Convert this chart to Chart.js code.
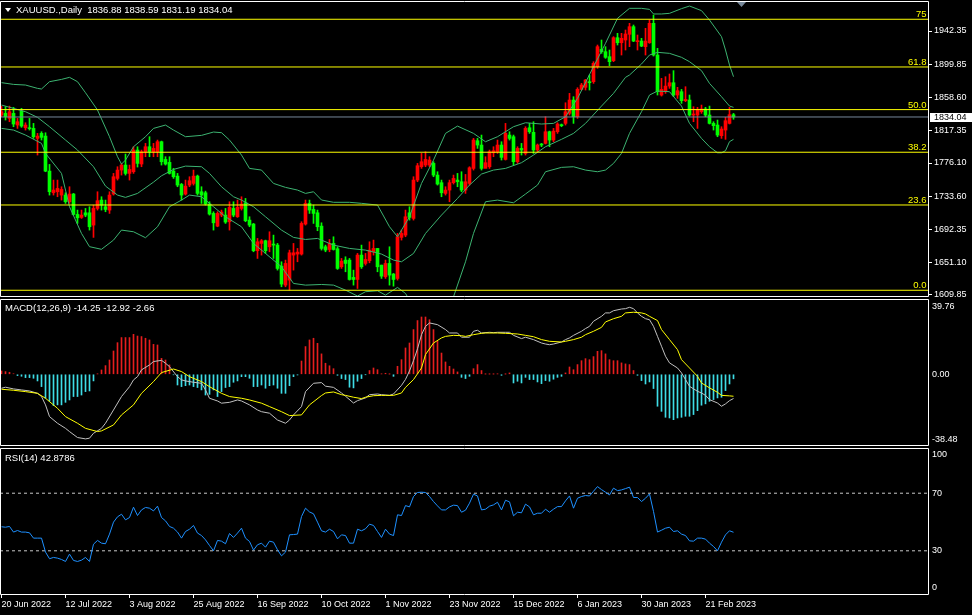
<!DOCTYPE html>
<html><head><meta charset="utf-8">
<script src="https://cdn.jsdelivr.net/npm/chart.js@4.4.1/dist/chart.umd.min.js"></script>
<style>
html,body{margin:0;padding:0;background:#000;}
#root{position:relative;width:972px;height:615px;overflow:hidden;background:#000;font-family:"Liberation Sans",Arial,sans-serif;}
canvas{position:absolute;left:0;}
.ttl{position:absolute;color:#fff;font-size:9.5px;line-height:12px;white-space:pre;}
.tri{position:absolute;width:0;height:0;border-left:3px solid transparent;border-right:3px solid transparent;border-top:4px solid #fff;}
</style></head><body>
<div id="root">
<canvas id="cP" width="972" height="298" style="top:0px"></canvas>
<canvas id="cM" width="972" height="149" style="top:298px"></canvas>
<canvas id="cR" width="972" height="168" style="top:447px"></canvas>
<div class="tri" style="left:5px;top:8px"></div>
<div class="ttl" style="left:16px;top:4px">XAUUSD.,Daily  1836.88 1838.59 1831.19 1834.04</div>
<div class="ttl" style="left:5px;top:302px">MACD(12,26,9) -14.25 -12.92 -2.66</div>
<div class="ttl" style="left:5px;top:452px">RSI(14) 42.8786</div>
</div>
<script>
// ---------- DATA ----------
const xTickIdx = [0,16,32,48,64,80,96,112,128,144,160,176];
const xTickLabels = ['20 Jun 2022','12 Jul 2022','3 Aug 2022','25 Aug 2022','16 Sep 2022','10 Oct 2022','1 Nov 2022','23 Nov 2022','15 Dec 2022','6 Jan 2023','30 Jan 2023','21 Feb 2023'];
const priceTicks = [1942.35,1899.85,1858.60,1817.35,1776.10,1733.60,1692.35,1651.10,1609.85];
const macdTicks = [39.76,0,-38.48];
const rsiTicks = [100,70,30,0];
const rsiLevels = [70,30];
const fibLevels = [75,61.8,50,38.2,23.6,0];
const fibLabels = ['75','61.8','50.0','38.2','23.6','0.0'];
const fibLow = 1615.8, fibHigh = 2070.9;
const lastPrice = 1834.04;

const opens = [
1836.5,1838.6,1832.3,1838.6,1823.9,1841.5,1820.5,1820.5,1819.7,1807.1,
1813.4,1810.0,1765.9,1738.6,1739.9,1735.7,1735.7,1727.3,1737.0,1711.3,
1707.6,1713.4,1713.4,1697.9,1718.9,1729.4,1721.0,1716.8,1737.0,1756.7,
1767.2,1773.5,1763.0,1765.1,1792.4,1774.8,1790.3,1796.6,1790.3,1790.3,
1802.9,1780.6,1776.9,1765.9,1759.6,1749.1,1737.0,1748.3,1750.4,1759.6,
1739.9,1738.6,1724.4,1712.6,1696.6,1710.5,1710.5,1702.1,1718.9,1708.4,
1718.9,1726.0,1704.2,1699.2,1665.6,1674.8,1678.2,1670.6,1674.0,1672.7,
1646.2,1622.3,1628.6,1660.1,1661.4,1661.4,1699.2,1725.2,1717.6,1713.4,
1696.6,1670.6,1667.2,1674.8,1668.1,1645.4,1653.8,1653.8,1632.0,1629.4,
1660.1,1649.6,1653.0,1664.3,1668.5,1647.5,1632.8,1649.6,1636.2,1630.7,
1682.4,1685.3,1713.4,1706.3,1754.6,1771.4,1773.5,1773.5,1775.6,1760.9,
1751.3,1737.8,1742.0,1751.3,1754.6,1752.5,1742.0,1750.4,1769.3,1804.2,
1798.7,1769.3,1771.4,1789.0,1790.3,1798.7,1780.6,1811.3,1809.2,1777.7,
1794.5,1788.2,1820.5,1814.7,1792.4,1799.5,1800.8,1815.5,1805.0,1815.5,
1823.9,1826.0,1838.6,1855.4,1834.4,1868.8,1871.4,1878.5,1878.5,1897.4,
1919.2,1916.3,1910.0,1905.0,1933.9,1927.6,1931.0,1938.2,1947.8,1928.9,
1929.7,1922.6,1927.6,1952.0,1912.1,1861.7,1865.9,1873.0,1877.2,1861.7,
1865.9,1854.6,1855.4,1836.5,1836.5,1840.7,1844.1,1836.5,1826.0,1823.9,
1810.5,1817.6,1826.0,1836.88];
const highs = [
1847.8,1847.0,1847.8,1846.2,1832.3,1844.9,1826.8,1832.3,1826.0,1813.4,
1815.5,1814.2,1774.3,1754.6,1754.6,1746.2,1738.6,1746.2,1737.8,1716.8,
1716.8,1718.9,1721.0,1723.0,1739.9,1733.6,1729.4,1739.9,1763.0,1771.4,
1775.6,1787.4,1773.5,1796.6,1796.6,1792.4,1800.8,1809.2,1800.8,1805.0,
1803.7,1784.0,1784.0,1769.3,1763.0,1750.4,1754.6,1758.8,1767.2,1760.9,
1746.2,1740.7,1727.3,1714.7,1714.7,1716.8,1718.9,1727.3,1727.3,1729.4,
1733.6,1731.5,1708.4,1700.0,1681.1,1679.8,1679.0,1689.5,1685.3,1674.8,
1651.7,1653.8,1666.4,1674.8,1668.5,1702.1,1729.4,1729.4,1723.1,1716.8,
1700.8,1672.7,1679.8,1683.2,1670.6,1655.9,1658.0,1655.9,1641.2,1662.2,
1672.7,1662.2,1676.9,1679.0,1668.5,1647.5,1653.8,1670.6,1637.0,1687.4,
1691.6,1716.8,1721.0,1758.8,1775.6,1788.2,1790.3,1784.0,1777.7,1765.1,
1754.6,1746.2,1754.6,1760.9,1763.0,1765.1,1761.7,1771.4,1807.1,1807.1,
1811.3,1784.0,1792.4,1796.6,1805.0,1802.9,1826.0,1815.5,1811.3,1796.6,
1800.8,1821.8,1826.0,1828.1,1800.0,1800.8,1834.4,1816.3,1819.7,1826.8,
1825.2,1852.0,1863.8,1859.6,1870.9,1876.4,1881.4,1886.9,1903.7,1924.7,
1931.0,1922.6,1918.4,1935.2,1939.4,1939.4,1943.6,1952.0,1949.9,1937.3,
1933.1,1945.7,1956.2,1962.5,1920.5,1882.7,1884.8,1888.2,1892.4,1871.4,
1868.8,1872.2,1861.7,1847.0,1846.2,1849.1,1846.2,1847.8,1828.1,1830.2,
1821.8,1833.6,1846.2,1838.59];
const lows = [
1834.4,1830.2,1828.1,1821.8,1819.7,1821.0,1817.6,1817.6,1807.1,1786.1,
1805.0,1765.1,1735.7,1735.7,1733.6,1729.4,1725.2,1725.2,1710.5,1700.0,
1706.3,1708.4,1691.6,1682.4,1716.8,1716.8,1714.7,1712.6,1735.7,1754.6,
1760.9,1760.9,1754.6,1763.0,1771.0,1771.4,1784.0,1784.0,1784.0,1784.0,
1773.5,1773.5,1762.2,1756.7,1746.2,1729.4,1735.7,1746.2,1748.3,1735.7,
1725.2,1723.1,1710.5,1691.6,1695.8,1708.4,1700.0,1691.6,1708.4,1707.6,
1716.8,1702.1,1695.8,1664.3,1655.9,1660.1,1662.2,1664.3,1655.9,1641.2,
1620.2,1620.2,1616.0,1641.2,1651.7,1660.1,1697.9,1712.6,1700.0,1690.8,
1666.4,1664.3,1664.3,1666.4,1642.1,1643.3,1639.1,1628.6,1622.3,1618.1,
1643.3,1647.5,1650.4,1660.1,1639.1,1630.7,1630.7,1622.3,1621.0,1628.6,
1679.0,1683.2,1704.2,1704.2,1752.5,1769.3,1771.4,1771.4,1758.8,1748.3,
1733.6,1735.7,1727.3,1749.6,1746.2,1739.9,1737.8,1748.3,1767.2,1794.5,
1767.2,1771.4,1769.3,1784.0,1788.2,1779.8,1779.8,1805.0,1773.5,1775.6,
1786.1,1786.1,1813.4,1788.2,1790.3,1796.6,1800.0,1796.6,1802.9,1813.4,
1821.8,1823.9,1836.5,1826.0,1832.3,1868.0,1868.0,1868.0,1876.4,1895.3,
1914.2,1907.9,1898.7,1903.7,1924.7,1912.1,1918.4,1922.6,1928.9,1918.4,
1922.6,1912.1,1926.8,1910.8,1861.7,1860.4,1863.8,1870.1,1859.6,1857.5,
1851.2,1853.3,1835.2,1828.1,1819.7,1838.6,1834.4,1825.2,1817.6,1809.2,
1807.1,1805.9,1825.2,1831.19];
const closes = [
1840.7,1834.4,1840.7,1825.2,1828.1,1822.6,1823.9,1819.3,1809.2,1810.0,
1808.4,1765.9,1739.9,1742.0,1744.1,1742.8,1727.3,1737.0,1711.3,1707.1,
1710.5,1710.5,1695.8,1718.9,1728.6,1723.1,1717.6,1735.7,1758.8,1767.2,
1773.5,1763.0,1768.0,1792.4,1775.6,1790.3,1796.6,1790.3,1794.5,1802.9,
1777.7,1774.8,1763.0,1758.8,1748.3,1735.7,1747.0,1753.8,1759.6,1737.8,
1735.7,1724.4,1711.8,1700.8,1712.6,1714.3,1701.7,1720.2,1710.5,1720.2,
1724.4,1703.4,1697.9,1665.6,1676.9,1678.2,1665.6,1678.2,1672.7,1643.3,
1623.6,1649.6,1663.0,1663.0,1663.9,1700.0,1725.2,1716.8,1712.6,1695.8,
1668.5,1666.4,1674.8,1667.2,1643.3,1652.5,1649.6,1629.4,1629.4,1660.1,
1645.4,1654.6,1666.4,1668.5,1645.4,1633.6,1649.6,1634.9,1629.4,1683.2,
1687.4,1708.4,1707.6,1754.6,1772.7,1777.7,1780.6,1779.8,1760.9,1749.6,
1738.6,1742.0,1751.3,1756.7,1752.5,1742.0,1752.5,1770.1,1805.0,1798.7,
1769.3,1776.5,1790.3,1791.6,1798.7,1783.2,1813.4,1807.1,1777.7,1794.5,
1792.4,1819.7,1815.5,1792.4,1798.7,1798.7,1815.5,1805.0,1816.3,1825.2,
1823.1,1840.7,1855.4,1834.4,1868.8,1874.3,1880.6,1877.2,1901.6,1922.6,
1916.3,1909.2,1903.7,1933.9,1927.6,1933.1,1938.6,1947.8,1929.7,1930.2,
1923.4,1929.7,1952.0,1912.1,1865.9,1868.8,1873.0,1877.2,1861.7,1867.2,
1854.6,1856.2,1836.5,1837.8,1843.6,1844.1,1836.5,1826.0,1823.1,1811.3,
1818.9,1829.4,1836.9,1834.04];

// Bollinger bands, [bar index, price]
const bbUpper = [[0,1877.3],[3,1875.1],[6,1874.3],[9,1870.1],[10,1869.3],[12,1878.5],[15,1881.4],[17,1884.0],[19,1878.5],[21,1864.6],[24,1842.8],[27,1809.2],[29,1784.0],[30,1774.8],[31,1779.8],[33,1796.6],[36,1809.2],[38,1819.7],[41,1823.9],[43,1817.6],[46,1809.2],[50,1810.9],[53,1815.1],[55,1814.3],[57,1805.0],[60,1786.1],[62,1769.3],[65,1767.2],[68,1750.4],[71,1745.4],[74,1742.0],[76,1737.8],[78,1739.9],[80,1729.5],[83,1726.6],[87,1726.6],[90,1725.3],[94,1723.1],[97,1695.8],[99,1683.2],[102,1708.4],[105,1750.4],[108,1779.8],[111,1813.4],[114,1822.6],[118,1813.4],[121,1802.9],[124,1809.2],[128,1821.8],[131,1826.8],[135,1825.2],[138,1826.0],[141,1834.4],[144,1857.5],[148,1897.4],[151,1926.8],[154,1958.3],[157,1970.9],[160,1970.9],[162,1969.6],[163,1963.8],[165,1963.8],[167,1964.6],[170,1970.5],[172,1973.8],[175,1968.0],[177,1956.2],[180,1935.2],[181,1918.4],[182,1899.5],[183,1884.8]];
const bbMiddle = [[0,1849.1],[3,1844.9],[6,1840.7],[9,1833.6],[12,1821.8],[16,1805.0],[19,1792.4],[23,1771.4],[26,1747.0],[29,1735.7],[31,1732.8],[34,1737.8],[38,1752.0],[40,1760.0],[43,1768.0],[46,1772.2],[50,1771.4],[52,1763.0],[55,1746.2],[58,1733.6],[60,1729.4],[63,1721.0],[66,1708.4],[70,1691.6],[73,1682.4],[76,1679.8],[79,1681.1],[83,1672.7],[87,1668.5],[91,1666.4],[95,1661.4],[98,1653.8],[100,1651.7],[103,1662.2],[106,1687.4],[110,1710.5],[114,1731.5],[117,1748.3],[120,1762.2],[123,1767.2],[126,1769.3],[130,1776.5],[133,1786.1],[136,1796.6],[140,1805.9],[143,1813.4],[146,1826.0],[150,1847.8],[153,1863.8],[156,1884.0],[157,1886.9],[160,1900.8],[162,1912.1],[164,1915.5],[167,1914.2],[170,1909.2],[172,1903.7],[175,1892.4],[177,1876.4],[180,1859.6],[182,1847.8],[183,1846.2]];
const bbLower = [[0,1819.7],[3,1817.6],[6,1811.3],[10,1800.8],[11,1788.2],[15,1763.0],[17,1721.0],[20,1687.4],[22,1670.7],[25,1667.4],[28,1679.0],[30,1691.6],[33,1689.5],[36,1682.0],[39,1695.8],[42,1721.0],[45,1729.4],[47,1735.7],[50,1733.6],[53,1721.0],[56,1708.4],[60,1695.8],[63,1674.8],[66,1662.2],[70,1645.4],[73,1624.4],[76,1622.3],[80,1623.1],[83,1622.3],[86,1616.0],[89,1608.5],[91,1614.0],[94,1615.2],[96,1609.7],[99,1619.4],[101,1611.8],[103,1595.0],[105,1578.0],[108,1570.0],[111,1582.0],[113,1607.6],[116,1651.7],[118,1687.4],[121,1727.3],[124,1729.4],[128,1726.0],[131,1737.0],[134,1748.3],[136,1765.1],[140,1770.6],[143,1771.4],[146,1767.2],[149,1765.1],[151,1767.2],[153,1775.6],[155,1788.2],[157,1813.4],[160,1840.7],[162,1861.7],[164,1866.7],[167,1865.9],[170,1847.8],[172,1826.0],[175,1807.1],[177,1796.6],[179,1789.0],[180,1789.0],[181,1791.6],[182,1803.0],[183,1805.9]];

const macdHist = [
1.96,1.57,1.18,0.3,-0.78,-1.17,-1.96,-1.96,-2.35,-3.92,
-7.25,-14.1,-15.7,-18.4,-18.0,-18.0,-16.5,-15.1,-13.1,-13.1,
-12.2,-10.2,-9.8,-3.9,0.2,2.55,5.1,8.4,13.7,18.6,
21.6,21.6,21.6,23.5,22.5,22.2,21.2,20.2,17.6,17.25,
9.4,8.4,5.5,-0.3,-6.3,-7.25,-6.7,-6.3,-7.25,-7.8,
-9.2,-12.2,-11.8,-9.2,-13.1,-10.2,-7.8,-7.25,-4.7,-3.9,
-1.4,-1.4,-2.35,-7.25,-7.25,-6.3,-8.2,-6.7,-6.3,-8.2,
-11.2,-11.2,-6.7,-1.4,-0.4,7.8,16.3,20.2,21.2,18.2,
12.0,6.5,5.0,3.3,-0.6,-2.5,-3.1,-7.6,-8.0,-4.1,
-2.5,-0.2,2.2,3.7,2.7,0.2,0.6,0.1,-1.2,4.7,
8.6,15.5,18.4,26.3,31.6,33.7,33.7,32.1,26.3,19.4,
12.5,7.25,4.7,3.1,1.4,-1.8,-2.5,-1.2,3.3,5.7,
2.2,0.1,0.1,0.1,0.2,-0.6,0.1,0.8,-5.1,-4.1,
-5.1,-1.8,-3.1,-3.1,-4.5,-5.5,-3.7,-4.1,-2.9,-1.8,
-1.2,0.8,4.3,2.7,5.7,8.0,9.2,8.6,10.4,13.5,
13.9,12.0,8.6,8.0,8.0,6.7,6.1,5.7,2.2,-0.6,
-3.7,-5.7,-4.5,-8.4,-18.8,-21.8,-25.3,-25.7,-26.7,-25.7,
-25.3,-24.7,-24.7,-23.7,-21.4,-18.2,-17.4,-15.9,-14.9,-13.9,
-13.5,-9.6,-5.7,-2.66];
const macdMain = [[0,-8.2],[1,-7.6],[3,-8.6],[5,-9.2],[7,-9.8],[9,-11.2],[10,-13.1],[11,-18.0],[12,-24.9],[14,-28.8],[16,-31.8],[17,-33.7],[19,-37.2],[21,-38.0],[22,-37.6],[23,-34.7],[25,-31.8],[26,-28.8],[28,-21.0],[30,-13.1],[32,-7.3],[33,-3.3],[34,-1.4],[35,2.6],[37,5.5],[38,7.5],[40,8.2],[41,6.5],[42,4.5],[44,-1.4],[45,-3.3],[46,-3.9],[48,-4.7],[50,-5.3],[51,-9.2],[52,-14.1],[54,-15.7],[55,-17.0],[57,-16.5],[59,-15.1],[60,-15.7],[62,-18.0],[64,-21.0],[65,-22.0],[67,-22.9],[69,-26.9],[71,-28.8],[72,-26.9],[73,-23.9],[75,-19.0],[76,-10.2],[78,-5.3],[80,-4.9],[81,-7.0],[83,-7.7],[85,-11.0],[86,-12.9],[88,-16.9],[89,-15.5],[91,-13.9],[92,-12.0],[94,-11.6],[95,-12.0],[97,-12.4],[98,-11.6],[100,-6.5],[101,-3.0],[102,2.0],[103,8.0],[104,15.0],[105,23.3],[106,28.2],[107,30.2],[109,29.2],[111,26.3],[112,24.3],[114,24.3],[115,21.8],[117,21.8],[118,25.3],[119,25.9],[120,24.3],[122,24.7],[123,24.5],[124,24.7],[126,24.7],[127,24.7],[128,22.9],[130,21.0],[131,21.8],[133,20.4],[135,18.4],[136,17.8],[137,17.4],[138,17.8],[140,19.0],[141,20.4],[142,21.4],[143,22.9],[145,25.3],[146,26.9],[147,28.2],[148,31.2],[150,34.1],[151,36.1],[152,36.1],[153,37.4],[155,38.4],[156,38.6],[157,39.4],[158,38.6],[159,36.1],[160,34.1],[161,32.7],[162,32.1],[163,28.2],[164,22.3],[165,16.5],[166,10.6],[167,6.7],[169,3.7],[170,0.8],[171,-3.1],[172,-7.1],[174,-10.0],[175,-11.0],[176,-12.4],[177,-14.9],[179,-16.9],[180,-18.8],[181,-17.4],[182,-15.5],[183,-14.25]];
const macdSignal = [[0,-8.8],[3,-9.4],[6,-10.2],[9,-11.2],[11,-14.1],[14,-20.0],[16,-24.9],[19,-28.8],[21,-31.8],[24,-33.7],[25,-33.3],[28,-29.8],[30,-23.9],[33,-18.0],[35,-11.2],[38,-4.3],[40,1.0],[43,3.1],[45,1.6],[47,-1.4],[50,-4.3],[52,-7.3],[55,-11.2],[57,-13.1],[60,-14.1],[62,-15.1],[65,-17.0],[67,-19.0],[70,-22.0],[72,-24.3],[75,-23.9],[77,-18.0],[80,-12.5],[81,-11.0],[83,-10.4],[85,-12.0],[86,-12.4],[88,-13.5],[90,-14.3],[91,-13.5],[93,-12.6],[95,-12.4],[96,-12.4],[98,-12.4],[100,-11.0],[101,-7.7],[103,-3.1],[105,3.7],[106,11.6],[108,18.4],[110,21.4],[111,22.3],[113,22.9],[115,22.7],[116,22.3],[118,23.3],[120,24.1],[121,24.3],[124,24.3],[126,24.1],[129,23.7],[131,22.9],[133,22.1],[135,20.4],[137,19.4],[140,19.0],[141,19.4],[143,20.4],[145,21.8],[146,23.3],[148,25.3],[150,27.6],[151,30.8],[153,32.7],[155,34.1],[156,36.1],[158,36.5],[160,36.1],[161,35.5],[162,34.1],[164,31.6],[165,26.3],[167,20.4],[169,14.5],[170,8.6],[172,3.7],[174,-1.2],[175,-5.1],[177,-8.0],[179,-10.6],[180,-12.4],[182,-12.7],[183,-12.92]];

const rsiValues = [
46.7,46.4,46.9,43.0,44.1,43.0,43.0,42.5,38.8,38.8,
38.8,29.1,24.5,25.4,24.9,24.0,22.6,27.7,23.3,22.6,
23.5,25.4,22.6,34.6,37.2,35.3,34.9,41.6,49.9,53.6,
55.4,51.5,53.1,60.3,54.5,58.4,60.1,59.6,57.7,61.0,
53.1,50.8,46.9,45.7,43.0,38.8,43.4,45.0,47.6,42.3,
40.6,37.6,33.7,30.0,37.2,36.7,34.9,42.0,39.3,42.3,
45.7,38.8,36.5,30.5,34.2,35.3,32.5,36.7,36.0,30.7,
26.5,29.1,41.1,41.3,41.6,53.8,59.6,57.0,55.7,49.9,
43.9,43.0,45.0,43.4,38.3,41.1,40.6,35.3,35.3,45.0,
43.9,45.3,48.5,47.6,43.4,39.3,45.0,41.6,40.6,55.0,
54.5,61.4,60.5,67.7,70.5,70.7,70.5,67.7,64.2,61.2,
58.4,58.4,60.5,61.7,61.4,56.8,58.2,63.1,69.3,68.1,
58.4,58.9,61.0,61.9,63.7,58.4,65.1,64.0,54.3,56.8,
56.4,62.4,60.5,55.0,56.1,56.1,58.9,56.8,58.9,60.7,
60.7,64.7,68.1,59.6,66.5,67.7,68.4,68.1,71.4,74.6,
72.5,70.7,68.8,73.5,71.8,72.3,73.2,74.2,67.0,67.0,
64.2,66.5,69.5,57.3,43.0,44.3,45.7,46.4,43.4,43.9,
41.6,40.6,36.9,36.7,38.8,38.8,38.1,35.3,33.0,30.0,
36.0,41.1,43.9,42.88];

// ---------- STYLE / LAYOUT ----------
const X_MIN = -0.375, X_MAX = 231.625;
const AXIS_W = 44;
const UP = '#FF0000', DOWN = '#00FF00', BB = '#3CB371';
Chart.defaults.font.family = '"Liberation Sans", Arial, sans-serif';
Chart.defaults.color = '#fff';

const pts = a => a.map(p => ({x: p[0], y: p[1]}));
const hline = v => [{x: X_MIN, y: v}, {x: X_MAX, y: v}];
const line = (data, color, order, extra) => Object.assign({type:'line', data, borderColor: color, borderWidth: 1, pointRadius: 0, fill: false, tension: 0, order, spanGaps: true}, extra || {});
const fibPrice = lv => fibLow + (fibHigh - fibLow) * lv / 100;
const fitY = s => { s.width = AXIS_W; s.paddingTop = 0; s.paddingBottom = 0; };

const borderPlugin = {
  id: 'panelBorder',
  afterDraw(chart) {
    const {ctx, chartArea: a} = chart;
    ctx.save();
    ctx.strokeStyle = '#fff'; ctx.lineWidth = 1;
    ctx.beginPath();
    ctx.moveTo(0.5, a.top - 0.5); ctx.lineTo(a.right + 0.5, a.top - 0.5);
    ctx.lineTo(a.right + 0.5, a.bottom + 0.5); ctx.lineTo(0.5, a.bottom + 0.5);
    ctx.closePath(); ctx.stroke();
    ctx.restore();
  }
};

const priceDecor = {
  id: 'priceDecor',
  afterDatasetsDraw(chart) {
    const ys = chart.scales.y, a = chart.chartArea, ctx = chart.ctx;
    ctx.save();
    ctx.font = '9.5px "Liberation Sans"';
    ctx.fillStyle = '#FFFF00'; ctx.textAlign = 'right'; ctx.textBaseline = 'alphabetic';
    fibLevels.forEach((lv, k) => {
      ctx.fillText(fibLabels[k], a.right - 1.5, ys.getPixelForValue(fibPrice(lv)) - 2);
    });
    const sx = chart.scales.x.getPixelForValue(185);
    ctx.fillStyle = '#778899';
    ctx.beginPath(); ctx.moveTo(sx - 4.5, 2); ctx.lineTo(sx + 4.5, 2); ctx.lineTo(sx, 7); ctx.closePath(); ctx.fill();
    ctx.restore();
  },
  afterDraw(chart) {
    const ys = chart.scales.y, a = chart.chartArea, ctx = chart.ctx;
    const py = Math.round(ys.getPixelForValue(lastPrice));
    ctx.save();
    ctx.fillStyle = '#fff';
    ctx.fillRect(a.right + 2, py - 4, chart.width - a.right - 2, 9);
    ctx.fillStyle = '#000'; ctx.font = '9px "Liberation Sans"';
    ctx.textAlign = 'left'; ctx.textBaseline = 'middle';
    ctx.fillText(lastPrice.toFixed(2), a.right + 6, py + 0.5);
    ctx.restore();
  }
};

const rsiLabels = {
  id: 'rsiLabels',
  afterDraw(chart) {
    const s = chart.scales.y, a = chart.chartArea, ctx = chart.ctx;
    ctx.save();
    ctx.font = '9px "Liberation Sans"'; ctx.fillStyle = '#fff';
    ctx.textAlign = 'left'; ctx.textBaseline = 'middle';
    rsiTicks.forEach(v => {
      let py = s.getPixelForValue(v);
      py = Math.min(Math.max(py, a.top + 6), a.bottom - 6);
      ctx.fillText(String(v), a.right + 4, py);
    });
    ctx.restore();
  }
};

const baseOpts = (padBottom) => ({
  responsive: false, animation: false, devicePixelRatio: 1, events: [],
  layout: {autoPadding: false, padding: {left: 0, right: 0, top: 2, bottom: padBottom}},
  plugins: {legend: {display: false}, tooltip: {enabled: false}, title: {display: false}}
});

// ---------- PRICE ----------
const candleColors = opens.map((o, i) => closes[i] >= o ? UP : DOWN);
const pOpts = baseOpts(2);
pOpts.scales = {
  x: {type: 'linear', display: false, min: X_MIN, max: X_MAX, offset: false},
  y: {type: 'linear', position: 'right', min: 1608.59, max: 1978.88,
      afterFit: fitY,
      afterBuildTicks: s => { s.ticks = priceTicks.map(v => ({value: v})); },
      grid: {drawOnChartArea: false, drawTicks: true, tickLength: 4, color: '#fff'},
      border: {display: false},
      ticks: {autoSkip: false, padding: 2, color: '#fff', font: {size: 9}, callback: v => Number(v).toFixed(2)}}
};
new Chart(document.getElementById('cP'), {
  type: 'bar',
  data: {datasets: [
    ...fibLevels.map(lv => line(hline(fibPrice(lv)), '#FFFF00', 0)),
    line(hline(lastPrice), '#778899', 1),
    line(pts(bbUpper), BB, 2),
    line(pts(bbMiddle), BB, 2),
    line(pts(bbLower), BB, 2),
    {type: 'bar', order: 3, grouped: false, barThickness: 3, minBarLength: 1, borderWidth: 0,
     data: opens.map((o, i) => ({x: i, y: [Math.min(o, closes[i]), Math.max(o, closes[i])]})),
     backgroundColor: candleColors},
    {type: 'bar', order: 4, grouped: false, barThickness: 1, minBarLength: 1, borderWidth: 0,
     data: opens.map((o, i) => ({x: i, y: [lows[i], highs[i]]})),
     backgroundColor: candleColors}
  ]},
  options: pOpts,
  plugins: [borderPlugin, priceDecor]
});

// ---------- MACD ----------
const mOpts = baseOpts(2);
mOpts.scales = {
  x: {type: 'linear', display: false, min: X_MIN, max: X_MAX, offset: false},
  y: {type: 'linear', position: 'right', min: -41.6, max: 43.7,
      afterFit: fitY,
      afterBuildTicks: s => { s.ticks = macdTicks.map(v => ({value: v})); },
      grid: {drawOnChartArea: false, drawTicks: false},
      border: {display: false},
      ticks: {autoSkip: false, padding: 4, color: '#fff', font: {size: 9}, callback: v => Number(v).toFixed(2)}}
};
new Chart(document.getElementById('cM'), {
  type: 'bar',
  data: {datasets: [
    line(pts(macdSignal), '#FFFF00', 0),
    line(pts(macdMain), '#C0C0C0', 1),
    {type: 'bar', order: 2, grouped: false, barThickness: 1, borderWidth: 0,
     data: macdHist.map((v, i) => ({x: i, y: v})),
     backgroundColor: macdHist.map(v => v >= 0 ? '#E61E1E' : '#3EDCE6')}
  ]},
  options: mOpts,
  plugins: [borderPlugin]
});

// ---------- RSI ----------
const rOpts = baseOpts(0);
rOpts.scales = {
  x: {type: 'linear', position: 'bottom', min: X_MIN, max: X_MAX, offset: false,
      afterBuildTicks: s => { s.ticks = xTickIdx.map(v => ({value: v})); },
      afterFit: s => { s.height = 21; },
      grid: {drawOnChartArea: false, drawTicks: true, tickLength: 4, color: '#fff'},
      border: {display: false},
      ticks: {autoSkip: false, maxRotation: 0, minRotation: 0, align: 'start', padding: 1, color: '#fff', font: {size: 9},
              callback: (v, idx) => xTickLabels[idx]}},
  y: {type: 'linear', position: 'right', min: 0, max: 100.7,
      afterFit: fitY,
      grid: {display: false}, border: {display: false},
      ticks: {display: false}}
};
new Chart(document.getElementById('cR'), {
  type: 'line',
  data: {datasets: [
    line(rsiValues.map((v, i) => ({x: i, y: v})), '#1E90FF', 0),
    ...rsiLevels.map(lv => line(hline(lv), '#C8C8C8', 1, {borderDash: [3, 3]}))
  ]},
  options: rOpts,
  plugins: [borderPlugin, rsiLabels]
});
</script>
</body></html>
